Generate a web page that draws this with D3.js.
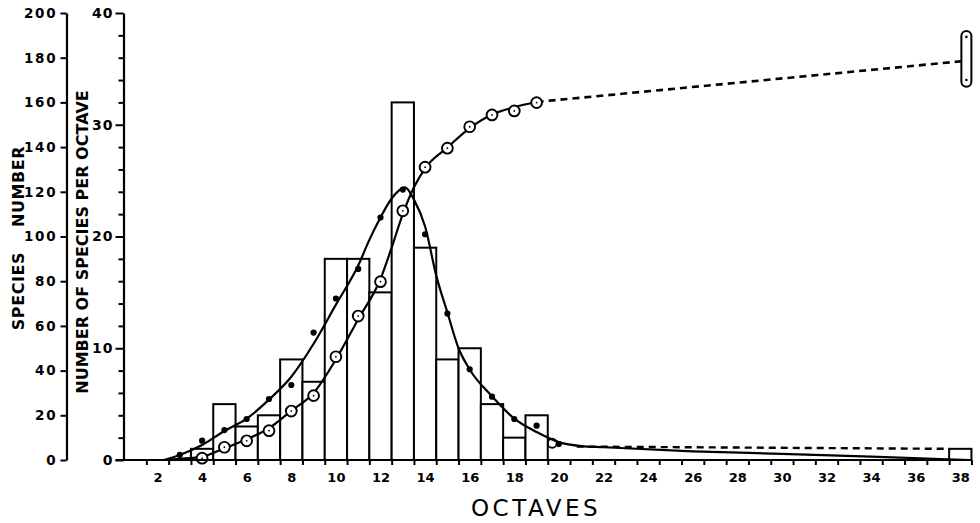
<!DOCTYPE html>
<html><head><meta charset="utf-8">
<script src="https://cdn.jsdelivr.net/npm/d3@7"></script>
<style>body{margin:0;background:#fff} svg{display:block}</style>
</head><body>
<svg id="chart" width="980" height="523"></svg>
<script>
// ---- data ----
const barOctaves = [4,5,6,7,8,9,10,11,12,13,14,15,16,17,18,19,38];
const barCounts  = [1,5,3,4,9,7,18,18,15,32,19,9,10,5,2,4,1];

const dotOctaves = [3,4,5,6,7,8,9,10,11,12,13,14,15,16,17,18,19,20];
const dotValues  = [0.45,1.73,2.68,3.67,5.46,6.71,11.4,14.45,17.1,21.7,24.2,20.2,13.1,8.12,5.67,3.67,3.07,1.43];

const circleOctaves = [4,5,6,7,8,9,10,11,12,13,14,15,16,17,18,19];
const circleValues  = [0.8,5.7,8.6,13.1,21.9,28.8,46.2,64.4,79.8,111.5,131.0,139.5,149.1,154.4,156.2,159.9];
const tailCircleOctave = [19.7];
const tailCircleValue  = [1.5];

const bellOctaves = [2.3,3,4,5,6,7,8,9,10,11,11.5,12,12.5,13.1,13.5,14,14.5,15,15.5,16,17,18,19,20,21,22,26,30,34,38.4];
const bellValues  = [0,0.45,1.34,2.6,3.7,5.4,7.45,10.4,13.9,17.4,19.7,21.7,23.4,24.4,23.3,20.9,16.5,13.2,10.0,8.1,5.7,3.7,2.5,1.6,1.25,1.15,0.78,0.55,0.3,0];
const bellDashOctaves = [20.8,37.5];
const bellDashValues  = [1.2,1.0];

const cumOctaves = [2.3,3,4,5,6,7,8,9,10,11,12,12.5,13,13.5,14,15,16,17,18,19];
const cumValues  = [0,0.5,1.5,5.2,9.3,14.2,22,30,45,63,81,95,110,122,130.5,139.8,148.5,154.6,157.9,160.2];
const cumDashOctaves = [19,38.25];
const cumDashValues  = [160.2,178.6];

const rangeOctave = 38.25;
const rangeSpecies = [167,192];
const rangeDots = [170,189.3];

const xTickLabels = [2,4,6,8,10,12,14,16,18,20,22,24,26,28,30,32,34,36,38];
const leftTicks = [0,20,40,60,80,100,120,140,160,180,200];
const rightTicks = [0,2,4,6,8,10,12,14,16,18,20,22,24,26,28,30,32,34,36,38,40];

// ---- layout ----
const svg = d3.select("#chart");
const x = d3.scaleLinear().domain([2,38]).range([157.5,960.3]);
const yR = d3.scaleLinear().domain([0,40]).range([460,13]);
const yL = d3.scaleLinear().domain([0,200]).range([460,13]);
const leftAxisX = 66.5, rightAxisX = 123.5;
const tickFont = "'DejaVu Sans', sans-serif";

// bars
svg.append("g").selectAll("rect").data(barOctaves).join("rect")
  .attr("x", d => x(d-0.5)).attr("width", d => x(d+0.5)-x(d-0.5))
  .attr("y", (d,i) => yR(barCounts[i])).attr("height", (d,i) => yR(0)-yR(barCounts[i]))
  .attr("fill","#fff").attr("stroke","#000").attr("stroke-width",2);

// curves
const bellLine = d3.line().x((d,i)=>x(bellOctaves[i])).y(d=>yR(d)).curve(d3.curveMonotoneX);
svg.append("path").attr("d", bellLine(bellValues)).attr("fill","none").attr("stroke","#000").attr("stroke-width",2.2);
const bellDash = d3.line().x((d,i)=>x(bellDashOctaves[i])).y(d=>yR(d));
svg.append("path").attr("d", bellDash(bellDashValues)).attr("fill","none").attr("stroke","#000").attr("stroke-width",2.4).attr("stroke-dasharray","7,5");

const cumLine = d3.line().x((d,i)=>x(cumOctaves[i])).y(d=>yL(d)).curve(d3.curveMonotoneX);
svg.append("path").attr("d", cumLine(cumValues)).attr("fill","none").attr("stroke","#000").attr("stroke-width",2.2);
const cumDash = d3.line().x((d,i)=>x(cumDashOctaves[i])).y(d=>yL(d));
svg.append("path").attr("d", cumDash(cumDashValues)).attr("fill","none").attr("stroke","#000").attr("stroke-width",2.6).attr("stroke-dasharray","7,5");

// range capsule
svg.append("rect").attr("x", x(rangeOctave)-4.5).attr("width",10)
  .attr("y", yL(rangeSpecies[1])).attr("height", yL(rangeSpecies[0])-yL(rangeSpecies[1]))
  .attr("rx",5).attr("ry",5).attr("fill","none").attr("stroke","#000").attr("stroke-width",2);
svg.append("g").selectAll("circle").data(rangeDots).join("circle")
  .attr("cx", x(rangeOctave)+0.5).attr("cy", d=>yL(d)).attr("r",1.3).attr("fill","#000");

// filled dots
svg.append("g").selectAll("circle").data(dotOctaves).join("circle")
  .attr("cx", d=>x(d)).attr("cy",(d,i)=>yR(dotValues[i])).attr("r",3.1).attr("fill","#000");

// open circles
const oc = svg.append("g");
oc.selectAll("circle.o").data(circleOctaves).join("circle").attr("class","o")
  .attr("cx", d=>x(d)).attr("cy",(d,i)=>yL(circleValues[i])).attr("r",5.4)
  .attr("fill","#fff").attr("stroke","#000").attr("stroke-width",1.9);
oc.selectAll("circle.c").data(circleOctaves).join("circle").attr("class","c")
  .attr("cx", d=>x(d)).attr("cy",(d,i)=>yL(circleValues[i])).attr("r",0.9).attr("fill","#000");
oc.selectAll("circle.t").data(tailCircleOctave).join("circle").attr("class","t")
  .attr("cx", d=>x(d)).attr("cy",(d,i)=>yR(tailCircleValue[i])).attr("r",4.5)
  .attr("fill","none").attr("stroke","#000").attr("stroke-width",1.8);

// x axis
const xAxisG = svg.append("g").attr("transform",`translate(0,${yR(0)})`);
xAxisG.append("line").attr("x1", rightAxisX-8).attr("x2", x(38.5)).attr("y1",0).attr("y2",0)
  .attr("stroke","#000").attr("stroke-width",2.2);
xAxisG.call(g => {
  const a = d3.axisBottom(x).tickValues(d3.range(1.5,38.6,1)).tickSize(5).tickFormat("");
  g.append("g").call(a).call(s=>s.select(".domain").remove())
   .selectAll("line").attr("stroke","#000").attr("stroke-width",2);
  const b = d3.axisBottom(x).tickValues(xTickLabels).tickSize(0).tickPadding(13);
  g.append("g").call(b).call(s=>s.select(".domain").remove())
   .selectAll("text").attr("font-family",tickFont).attr("font-weight","bold").attr("font-size",13).attr("fill","#000");
});

// left axis
const lg = svg.append("g").attr("transform",`translate(${leftAxisX},0)`);
lg.call(d3.axisLeft(yL).tickValues(leftTicks).tickSize(6).tickPadding(3).tickSizeOuter(0));
lg.select(".domain").attr("stroke-width",2.2);
lg.selectAll(".tick line").attr("stroke-width",2);
lg.selectAll("text").attr("font-family",tickFont).attr("font-weight","bold").attr("font-size",13.5)
  .attr("letter-spacing","1.8px").attr("fill","#000");

// right axis
const rg = svg.append("g").attr("transform",`translate(${rightAxisX},0)`);
rg.call(d3.axisLeft(yR).tickValues(rightTicks).tickSize(6).tickPadding(4).tickSizeOuter(0)
  .tickFormat(d => d%10===0 ? d : ""));
rg.select(".domain").attr("stroke-width",2.2);
rg.selectAll(".tick line").attr("stroke-width",2).attr("x2", d => d%10===0 ? -8 : -5);
rg.selectAll("text").attr("font-family",tickFont).attr("font-weight","bold").attr("font-size",14)
  .attr("letter-spacing","1px").attr("fill","#000");

// titles
svg.append("text").attr("transform","translate(24,238) rotate(-90)").attr("text-anchor","middle")
  .attr("font-family",tickFont).attr("font-weight","bold").attr("font-size",16).style("white-space","pre")
  .attr("letter-spacing","0.6px")
  .text("SPECIES    NUMBER");
svg.append("text").attr("transform","translate(88,242) rotate(-90)").attr("text-anchor","middle")
  .attr("font-family",tickFont).attr("font-weight","bold").attr("font-size",16)
  .text("NUMBER OF SPECIES PER OCTAVE");
svg.append("text").attr("x",536).attr("y",516).attr("text-anchor","middle")
  .attr("font-family",tickFont).attr("font-size",23).attr("letter-spacing","3.5px")
  .text("OCTAVES");
</script>
</body></html>
